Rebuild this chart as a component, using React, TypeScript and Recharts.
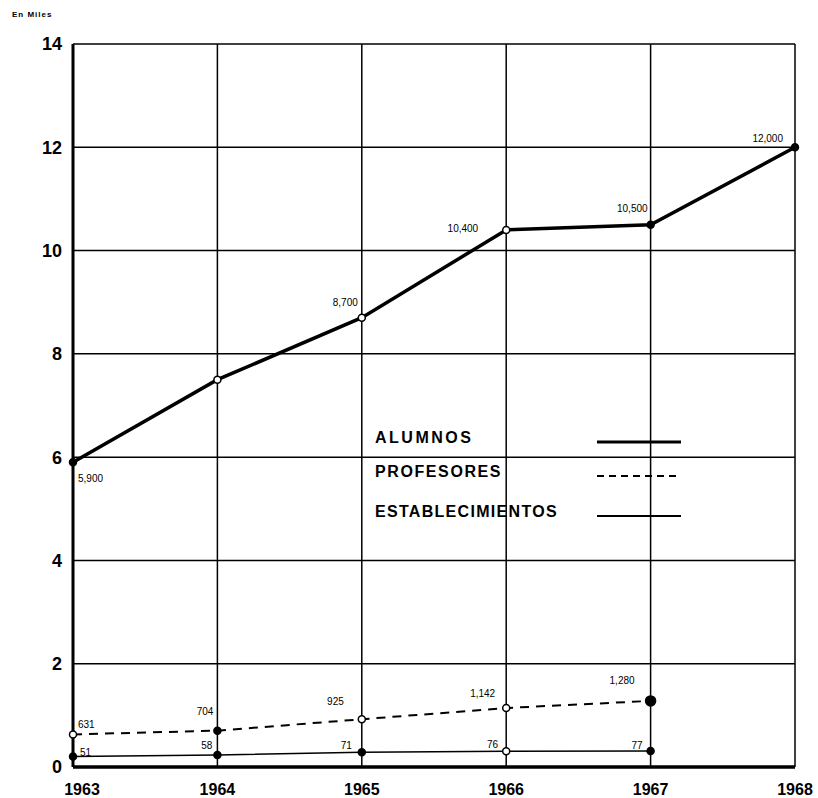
import { LineChart, Line, XAxis, YAxis, CartesianGrid, LabelList } from 'recharts';

const years = [1963, 1964, 1965, 1966, 1967, 1968];
const alumnos = [5900, 7500, 8700, 10400, 10500, 12000];
const profesores = [631, 704, 925, 1142, 1280];
const establecimientos = [51, 58, 71, 76, 77];
const yTicks = [0, 2, 4, 6, 8, 10, 12, 14];

// establecimientos are counts, drawn near the base of the thousands scale
const EST_SCALE = 250;

const data = years.map((year, i) => ({
  year,
  alumnos: alumnos[i] / 1000,
  profesores: profesores[i] != null ? profesores[i] / 1000 : null,
  establecimientos: establecimientos[i] != null ? establecimientos[i] / EST_SCALE : null,
  alumnosLabel: i === 1 ? '' : alumnos[i].toLocaleString('en-US'),
  profesoresLabel: profesores[i] != null ? profesores[i].toLocaleString('en-US') : '',
  establecimientosLabel: establecimientos[i] != null ? String(establecimientos[i]) : '',
}));

const FONT = '"Liberation Sans", Arial, sans-serif';

// label placement per point: [dx, dy, anchor]
const labelPos: Record<string, [number, number, string][]> = {
  alumnos: [[5, 20, 'start'], [0, 0, 'end'], [-4, -12, 'end'], [-28, 2, 'end'], [-3, -13, 'end'], [-12, -5, 'end']],
  profesores: [[5, -6, 'start'], [-4, -16, 'end'], [-18, -14, 'end'], [-11, -11, 'end'], [-16, -17, 'end']],
  establecimientos: [[7, 0, 'start'], [-5, -6, 'end'], [-10, -3, 'end'], [-8, -3, 'end'], [-8, -2, 'end']],
};

const filled: Record<string, boolean[]> = {
  alumnos: [true, false, false, false, true, true],
  profesores: [false, true, false, false, true],
  establecimientos: [true, true, true, false, true],
};

function makeDot(key: string) {
  return (props: any) => {
    const { cx, cy, index, value } = props;
    if (value == null || cx == null || cy == null) return <g key={`${key}-${index}`} />;
    const isFilled = filled[key][index];
    const big = key === 'profesores' && index === 4;
    return (
      <circle
        key={`${key}-${index}`}
        cx={cx}
        cy={cy}
        r={big ? 5 : 3.5}
        fill={isFilled ? '#000' : '#fff'}
        stroke="#000"
        strokeWidth={1.5}
      />
    );
  };
}

function makeLabel(key: string) {
  return (props: any) => {
    const { x, y, index, value } = props;
    if (!value) return null;
    const pos = labelPos[key][index];
    if (!pos) return null;
    return (
      <text
        x={x + pos[0]}
        y={y + pos[1]}
        textAnchor={pos[2] as any}
        fontSize={10}
        fontFamily={FONT}
        fill="#000"
      >
        {value}
      </text>
    );
  };
}

const XTick = (props: any) => {
  const { x, y, payload, index } = props;
  return (
    <text
      x={x + (index === 0 ? 9 : 0)}
      y={y + 28}
      textAnchor="middle"
      fontSize={16}
      fontWeight={700}
      fontFamily={FONT}
      fill="#000"
    >
      {payload.value}
    </text>
  );
};

const legendRows = [
  { name: 'ALUMNOS', width: 3, dash: undefined as string | undefined, spacing: 2.5, top: 428 },
  { name: 'PROFESORES', width: 2, dash: '7 5', spacing: 1.6, top: 462 },
  { name: 'ESTABLECIMIENTOS', width: 2, dash: undefined, spacing: 1.3, top: 502 },
];

export default function App() {
  return (
    <div style={{ position: 'absolute', left: 0, top: 0, width: 818, height: 798 }}>
      <div
        style={{
          position: 'absolute',
          left: 12,
          top: 10,
          fontSize: 8,
          fontWeight: 700,
          fontFamily: FONT,
          letterSpacing: 1,
        }}
      >
        En Miles
      </div>
      <LineChart width={818} height={798} data={data} margin={{ top: 44, right: 23, left: 28, bottom: 6 }}>
        <CartesianGrid stroke="#000" strokeWidth={1.5} />
        <XAxis
          dataKey="year"
          type="number"
          domain={[1963, 1968]}
          ticks={years}
          height={25}
          tickSize={0}
          tickMargin={0}
          tick={<XTick />}
          axisLine={{ stroke: '#000', strokeWidth: 3.5 }}
        />
        <YAxis
          type="number"
          domain={[0, 14]}
          ticks={yTicks}
          width={45}
          tickSize={0}
          tickMargin={11}
          tick={{ fill: '#000', fontSize: 18, fontWeight: 700, fontFamily: FONT }}
          axisLine={{ stroke: '#000', strokeWidth: 3 }}
        />
        <Line
          type="linear"
          dataKey="alumnos"
          stroke="#000"
          strokeWidth={3.5}
          dot={makeDot('alumnos')}
          isAnimationActive={false}
        >
          <LabelList dataKey="alumnosLabel" content={makeLabel('alumnos')} />
        </Line>
        <Line
          type="linear"
          dataKey="profesores"
          stroke="#000"
          strokeWidth={2}
          strokeDasharray="9 7"
          dot={makeDot('profesores')}
          isAnimationActive={false}
        >
          <LabelList dataKey="profesoresLabel" content={makeLabel('profesores')} />
        </Line>
        <Line
          type="linear"
          dataKey="establecimientos"
          stroke="#000"
          strokeWidth={1.5}
          dot={makeDot('establecimientos')}
          isAnimationActive={false}
        >
          <LabelList dataKey="establecimientosLabel" content={makeLabel('establecimientos')} />
        </Line>
      </LineChart>
      {legendRows.map((r) => (
        <div key={r.name} style={{ position: 'absolute', left: 375, top: r.top, width: 310, height: 20 }}>
          <span
            style={{
              position: 'absolute',
              left: 0,
              top: 0,
              fontSize: 16,
              fontWeight: 700,
              fontFamily: FONT,
              letterSpacing: r.spacing,
              lineHeight: '20px',
              whiteSpace: 'nowrap',
            }}
          >
            {r.name}
          </span>
          <svg style={{ position: 'absolute', left: 222, top: 0 }} width={84} height={20}>
            <line x1={0} x2={84} y1={14} y2={14} stroke="#000" strokeWidth={r.width} strokeDasharray={r.dash} />
          </svg>
        </div>
      ))}
    </div>
  );
}
